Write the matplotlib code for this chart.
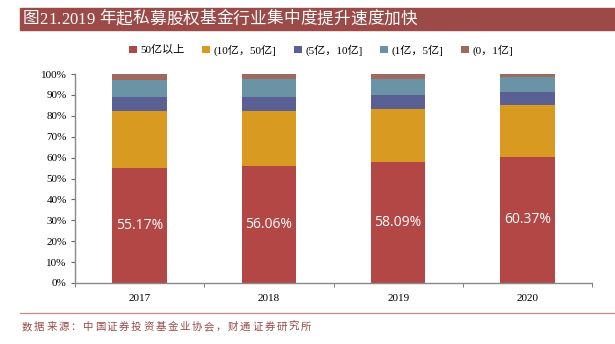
import numpy as np
import matplotlib
matplotlib.use("Agg")
import matplotlib.pyplot as plt
from matplotlib.patches import Rectangle
from matplotlib.lines import Line2D

# ---- Data ----
years = ["2017", "2018", "2019", "2020"]
series_names = ["50亿以上", "(10亿，50亿]", "(5亿，10亿]", "(1亿，5亿]", "(0，1亿]"]
above_50 = [55.17, 56.06, 58.09, 60.37]
b10_50 = [27.1, 26.4, 25.2, 24.7]
b5_10 = [6.5, 6.6, 6.7, 6.1]
b1_5 = [8.5, 8.6, 7.8, 7.3]
b0_1 = [2.73, 2.34, 2.21, 1.53]
colors = ["#B34745", "#D99A22", "#5A5F94", "#6A93A6", "#9E6A5E"]

title = "图21.2019 年起私募股权基金行业集中度提升速度加快"
source = "数据来源：中国证券投资基金业协会，财通证券研究所"

serif = ["Liberation Serif", "Noto Sans CJK SC"]
cjk = ["Noto Sans CJK SC", "DejaVu Sans"]

W, H = 615, 344
fig = plt.figure(figsize=(W / 100, H / 100), dpi=100)
renderer = fig.canvas.get_renderer()


def spaced_text(x0, x1, y, s, **kw):
    # lay out characters one by one so the string spans x0..x1 (pixels)
    widths = []
    for ch in s:
        t = fig.text(0, 0, ch, **kw)
        widths.append(t.get_window_extent(renderer).width if ch != " " else None)
        t.remove()
    sp = fig.text(0, 0, "a", **kw)
    space_w = sp.get_window_extent(renderer).width * 0.6
    sp.remove()
    widths = [w if w is not None else space_w for w in widths]
    gap = (x1 - x0 - sum(widths)) / max(len(s) - 1, 1)
    x = x0
    for ch, w in zip(s, widths):
        fig.text(x / W, 1 - y / H, ch, ha="left", va="center", **kw)
        x += w + gap


# title bar
fig.patches.append(Rectangle((20 / W, 1 - 30 / H), (W - 20) / W, 22 / H,
                             transform=fig.transFigure, color="#9B4A47", zorder=0))
spaced_text(23, 417, 19.5, title, color="white", fontsize=12, family=serif)

# bottom separator + source
fig.add_artist(Line2D([20 / W, 1], [1 - 313 / H] * 2, transform=fig.transFigure,
                      color="#C98A86", lw=0.9))
spaced_text(22, 311, 327, source, color="#9B4A47", fontsize=7.5, family=cjk)

ax = fig.add_axes([75 / W, 1 - 283 / H, (592 - 75) / W, (283 - 74) / H])

data = [above_50, b10_50, b5_10, b1_5, b0_1]
x = np.arange(len(years))
bottom = np.zeros(len(years))
handles = []
for vals, c, name in zip(data, colors, series_names):
    h = ax.bar(x, vals, bottom=bottom, width=0.42, color=c, label=name, zorder=2)
    handles.append(h)
    bottom += np.array(vals)

for xi, v in zip(x, above_50):
    ax.text(xi, v / 2, f"{v:.2f}%", color="white", ha="center", va="center",
            fontsize=10, family=["Open Sans", "DejaVu Sans"])

ax.set_xlim(-0.5, len(years) - 0.5)
ax.set_ylim(0, 100)
ax.set_yticks(np.arange(0, 101, 10))
ax.set_yticklabels([f"{t}%" for t in range(0, 101, 10)], family=serif, fontsize=8)
ax.set_xticks(x)
ax.set_xticklabels(years, family=serif, fontsize=8)
ax.set_xticks(np.arange(-0.5, len(years), 1), minor=True)
ax.tick_params(axis="x", which="major", length=0, pad=8)
ax.tick_params(axis="x", which="minor", length=3, direction="out", color="#666666")
ax.tick_params(axis="y", length=3, direction="out", color="#666666", pad=3)
for s in ["top", "right"]:
    ax.spines[s].set_visible(False)
for s in ["left", "bottom"]:
    ax.spines[s].set_color("#888888")
    ax.spines[s].set_linewidth(1.0)

fig.legend(handles=handles, loc="center", bbox_to_anchor=(321 / W, 1 - 50 / H),
           ncol=5, frameon=False, prop={"family": serif, "size": 8},
           handlelength=0.7, handleheight=0.7, handletextpad=0.3, columnspacing=1.6)

fig.savefig("out.png", dpi=100)
